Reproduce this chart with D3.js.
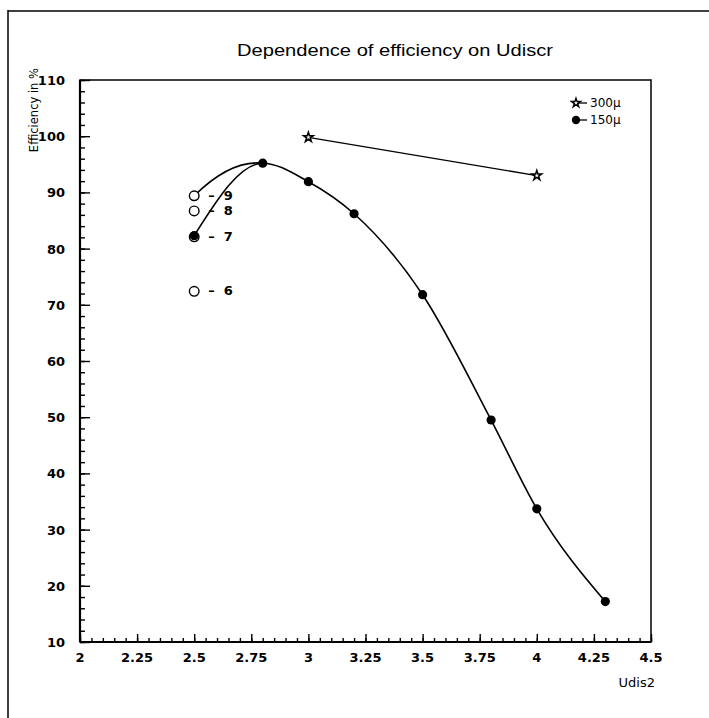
<!DOCTYPE html>
<html><head><meta charset="utf-8">
<script src="https://cdn.jsdelivr.net/npm/d3@7"></script>
<style>body{margin:0;background:#fff;} svg{display:block;}</style>
</head><body>
<svg id="c" width="709" height="718"></svg>
<script>
// ---- data ----
const title = "Dependence of efficiency on Udiscr";
const xLabel = "Udis2";
const yLabel = "Efficiency in %";
const x150 = [2.5, 2.8, 3.0, 3.2, 3.5, 3.8, 4.0, 4.3];
const y150 = [82.3, 95.2, 91.9, 86.2, 71.8, 49.5, 33.7, 17.2];
const x300 = [3.0, 4.0];
const y300 = [99.8, 93.0];
const xOpen = [2.5, 2.5, 2.5, 2.5];
const yOpen = [89.4, 86.7, 82.1, 72.4];
const openLabels = ["9", "8", "7", "6"];
const xTickVals = [2, 2.25, 2.5, 2.75, 3, 3.25, 3.5, 3.75, 4, 4.25, 4.5];
const xTickLabels = ["2", "2.25", "2.5", "2.75", "3", "3.25", "3.5", "3.75", "4", "4.25", "4.5"];
const yTickVals = [10, 20, 30, 40, 50, 60, 70, 80, 90, 100, 110];
const legendNames = ["300\u03bc", "150\u03bc"];

// ---- layout ----
const L = 80, R = 651, T = 80, B = 642;
const svg = d3.select("#c");
const x = d3.scaleLinear().domain([2, 4.5]).range([L, R]);
const y = d3.scaleLinear().domain([10, 110]).range([B, T]);
const font = "'DejaVu Sans', sans-serif";

// outer page frame
svg.append("line").attr("x1", 8).attr("x2", 8).attr("y1", 10).attr("y2", 718).attr("stroke", "#000").attr("stroke-width", 1.5);
svg.append("line").attr("x1", 8).attr("x2", 709).attr("y1", 11).attr("y2", 11).attr("stroke", "#000").attr("stroke-width", 1.5);

// title
svg.append("text").attr("x", 395).attr("y", 56).attr("text-anchor", "middle")
  .attr("font-family", "'Liberation Sans', sans-serif").attr("font-size", 16)
  .attr("textLength", 316).attr("lengthAdjust", "spacingAndGlyphs").text(title);

// plot frame
svg.append("rect").attr("x", L).attr("y", T).attr("width", R - L).attr("height", B - T)
  .attr("fill", "none").attr("stroke", "#000").attr("stroke-width", 1.5);
svg.append("line").attr("x1", L).attr("x2", L).attr("y1", T).attr("y2", B).attr("stroke", "#000").attr("stroke-width", 2.2);
svg.append("line").attr("x1", L).attr("x2", R).attr("y1", B).attr("y2", B).attr("stroke", "#000").attr("stroke-width", 2.2);

// axes (ticks inward)
const yMinor = d3.range(10, 110.001, 2);
const xMinor = d3.range(0, 51).map(i => 2 + i * 0.05);
svg.append("g").attr("transform", `translate(${L},0)`)
  .call(d3.axisRight(y).tickValues(yMinor).tickSize(5).tickFormat(""))
  .call(g => g.select(".domain").remove());
svg.append("g").attr("transform", `translate(${L},0)`)
  .call(d3.axisRight(y).tickValues(yTickVals).tickSize(10).tickFormat(""))
  .call(g => g.select(".domain").remove());
svg.append("g").attr("transform", `translate(0,${B})`)
  .call(d3.axisTop(x).tickValues(xMinor).tickSize(4).tickFormat(""))
  .call(g => g.select(".domain").remove());
svg.append("g").attr("transform", `translate(0,${B})`)
  .call(d3.axisTop(x).tickValues(xTickVals).tickSize(8).tickFormat(""))
  .call(g => g.select(".domain").remove());
svg.selectAll(".tick line").attr("stroke-width", 1.4);

// tick labels
svg.append("g").selectAll("text").data(yTickVals).join("text")
  .attr("x", 65).attr("y", d => y(d) + 5).attr("text-anchor", "end")
  .attr("font-family", font).attr("font-size", 13).attr("font-weight", "bold").text(d => d);
svg.append("g").selectAll("text").data(xTickVals).join("text")
  .attr("x", d => x(d)).attr("y", B + 20).attr("text-anchor", "middle")
  .attr("font-family", font).attr("font-size", 13).attr("font-weight", "600").text((d, i) => xTickLabels[i]);

// axis titles
svg.append("text").attr("x", 655).attr("y", 687).attr("text-anchor", "end")
  .attr("font-family", font).attr("font-size", 13).text(xLabel);
svg.append("text").attr("transform", "translate(38,68) rotate(-90)").attr("text-anchor", "end")
  .attr("font-family", font).attr("font-size", 11.5).text(yLabel);

// 150 curve
const pts150 = x150.map((v, i) => [x(v), y(y150[i])]);
svg.append("path").attr("d", d3.line().curve(d3.curveMonotoneX)(pts150))
  .attr("fill", "none").attr("stroke", "#000").attr("stroke-width", 1.6);
// arc from open circle 9 to peak
const p9 = d3.path();
p9.moveTo(x(xOpen[0]), y(yOpen[0]));
p9.quadraticCurveTo(x(2.66), y(y150[1] + 0.6), x(x150[1]), y(y150[1]));
svg.append("path").attr("d", p9.toString()).attr("fill", "none").attr("stroke", "#000").attr("stroke-width", 1.6);

// 300 line
svg.append("path").attr("d", d3.line()(x300.map((v, i) => [x(v), y(y300[i])])))
  .attr("fill", "none").attr("stroke", "#000").attr("stroke-width", 1.3);

// open circles
svg.append("g").selectAll("circle").data(yOpen).join("circle")
  .attr("cx", (d, i) => x(xOpen[i])).attr("cy", d => y(d)).attr("r", 4.8)
  .attr("fill", "#fff").attr("stroke", "#000").attr("stroke-width", 1.4);
svg.append("g").selectAll("text").data(yOpen).join("text")
  .attr("x", (d, i) => x(xOpen[i]) + 14).attr("y", d => y(d) + 4)
  .attr("font-family", font).attr("font-size", 13).attr("font-weight", "bold")
  .attr("xml:space", "preserve").text((d, i) => "\u2013  " + openLabels[i]);

// filled dots
svg.append("g").selectAll("circle").data(pts150).join("circle")
  .attr("cx", d => d[0]).attr("cy", d => d[1]).attr("r", 4.6).attr("fill", "#000");

// stars
const star = d3.symbol().type(d3.symbolStar).size(28);
svg.append("g").selectAll("path").data(x300).join("path")
  .attr("transform", (d, i) => `translate(${x(d)},${y(y300[i])})`).attr("d", star)
  .attr("fill", "#fff").attr("stroke", "#000").attr("stroke-width", 1.6);

// legend
const lg = svg.append("g");
lg.append("line").attr("x1", 576).attr("x2", 587).attr("y1", 103).attr("y2", 103).attr("stroke", "#000").attr("stroke-width", 1.3);
lg.append("path").attr("transform", "translate(576,103)").attr("d", d3.symbol().type(d3.symbolStar).size(24))
  .attr("fill", "#fff").attr("stroke", "#000").attr("stroke-width", 1.5);
lg.append("line").attr("x1", 576).attr("x2", 587).attr("y1", 120).attr("y2", 120).attr("stroke", "#000").attr("stroke-width", 1.3);
lg.append("circle").attr("cx", 576).attr("cy", 120).attr("r", 4.2).attr("fill", "#000");
lg.selectAll("text").data(legendNames).join("text")
  .attr("x", 590).attr("y", (d, i) => 107 + i * 17)
  .attr("font-family", font).attr("font-size", 12).text(d => d);
</script>
</body></html>
